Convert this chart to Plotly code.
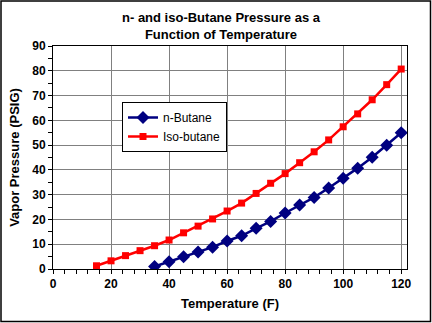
import plotly.graph_objects as go

temp_n = [35, 40, 45, 50, 55, 60, 65, 70, 75, 80, 85, 90, 95, 100, 105, 110, 115, 120]
p_n = [1.0, 2.9, 4.9, 6.9, 8.8, 11.3, 13.4, 16.4, 19.2, 22.6, 25.8, 28.9, 32.7, 36.6, 40.7, 45.1, 49.9, 55.0]

temp_iso = [15, 20, 25, 30, 35, 40, 45, 50, 55, 60, 65, 70, 75, 80, 85, 90, 95, 100, 105, 110, 115, 120]
p_iso = [1.3, 3.3, 5.4, 7.4, 9.4, 11.7, 14.6, 17.3, 20.2, 23.4, 26.6, 30.5, 34.6, 38.5, 42.9, 47.3, 52.1, 57.4, 62.6, 68.3, 74.4, 80.7]

FONT = "Arial, Liberation Sans, sans-serif"

fig = go.Figure()
fig.add_trace(go.Scatter(
    x=temp_n, y=p_n, mode="lines+markers", name="n-Butane",
    line=dict(color="#000080", width=2.5),
    marker=dict(symbol="diamond", size=10, color="#000080"),
))
fig.add_trace(go.Scatter(
    x=temp_iso, y=p_iso, mode="lines+markers", name="Iso-butane",
    line=dict(color="#FF0000", width=2.5),
    marker=dict(symbol="square", size=7, color="#FF0000"),
))

W, H = 432, 323
ml, mr, mt, mb = 53, 25, 46, 54
pw, ph = W - ml - mr, H - mt - mb

fig.update_layout(
    width=W, height=H,
    margin=dict(l=ml, r=mr, t=mt, b=mb, pad=0),
    paper_bgcolor="white", plot_bgcolor="white",
    font=dict(family=FONT, size=12, color="black"),
    showlegend=True,
    legend=dict(
        x=(122 - ml) / pw, y=1 - (102 - mt) / ph, xanchor="left", yanchor="top",
        bgcolor="white", bordercolor="black", borderwidth=1,
        font=dict(family=FONT, size=12, color="black"),
        itemwidth=30, tracegroupgap=2,
    ),
    xaxis=dict(
        range=[0, 122], dtick=20, tick0=0,
        showgrid=True, gridcolor="#808080", gridwidth=1,
        showline=True, linecolor="black", linewidth=1, mirror=True,
        ticks="outside", ticklen=4, tickcolor="black",
        minor=dict(dtick=4, tick0=0, ticks="outside", ticklen=4, tickcolor="black", showgrid=False),
        zeroline=False,
        tickfont=dict(family=FONT, size=12, color="black", weight="bold"),
        title=dict(text="<b>Temperature (F)</b>", font=dict(family=FONT, size=13, color="black"), standoff=8),
    ),
    yaxis=dict(
        range=[0, 90], dtick=10, tick0=0,
        showgrid=True, gridcolor="#808080", gridwidth=1,
        showline=True, linecolor="black", linewidth=1, mirror=True,
        ticks="outside", ticklen=4, tickcolor="black",
        minor=dict(dtick=5, tick0=0, ticks="outside", ticklen=4, tickcolor="black", showgrid=False),
        zeroline=False,
        tickfont=dict(family=FONT, size=12, color="black", weight="bold"),
        title=dict(text="<b>Vapor Pressure (PSIG)</b>", font=dict(family=FONT, size=13, color="black"), standoff=9),
    ),
    annotations=[dict(
        text="<b>n- and iso-Butane Pressure as a<br>Function of Temperature</b>",
        xref="paper", yref="paper",
        x=(221 - ml) / pw, y=1 + (mt - 8) / ph,
        xanchor="center", yanchor="top", showarrow=False,
        font=dict(family=FONT, size=13, color="black"),
    )],
    shapes=[dict(
        type="rect", xref="paper", yref="paper",
        x0=(1 - ml) / pw, x1=(W - 1.5 - ml) / pw,
        y0=-(mb - 1.5) / ph, y1=1 + (mt - 1) / ph,
        line=dict(color="black", width=1.5), fillcolor="rgba(0,0,0,0)", layer="below",
    )],
)

fig.write_html("out.html")
